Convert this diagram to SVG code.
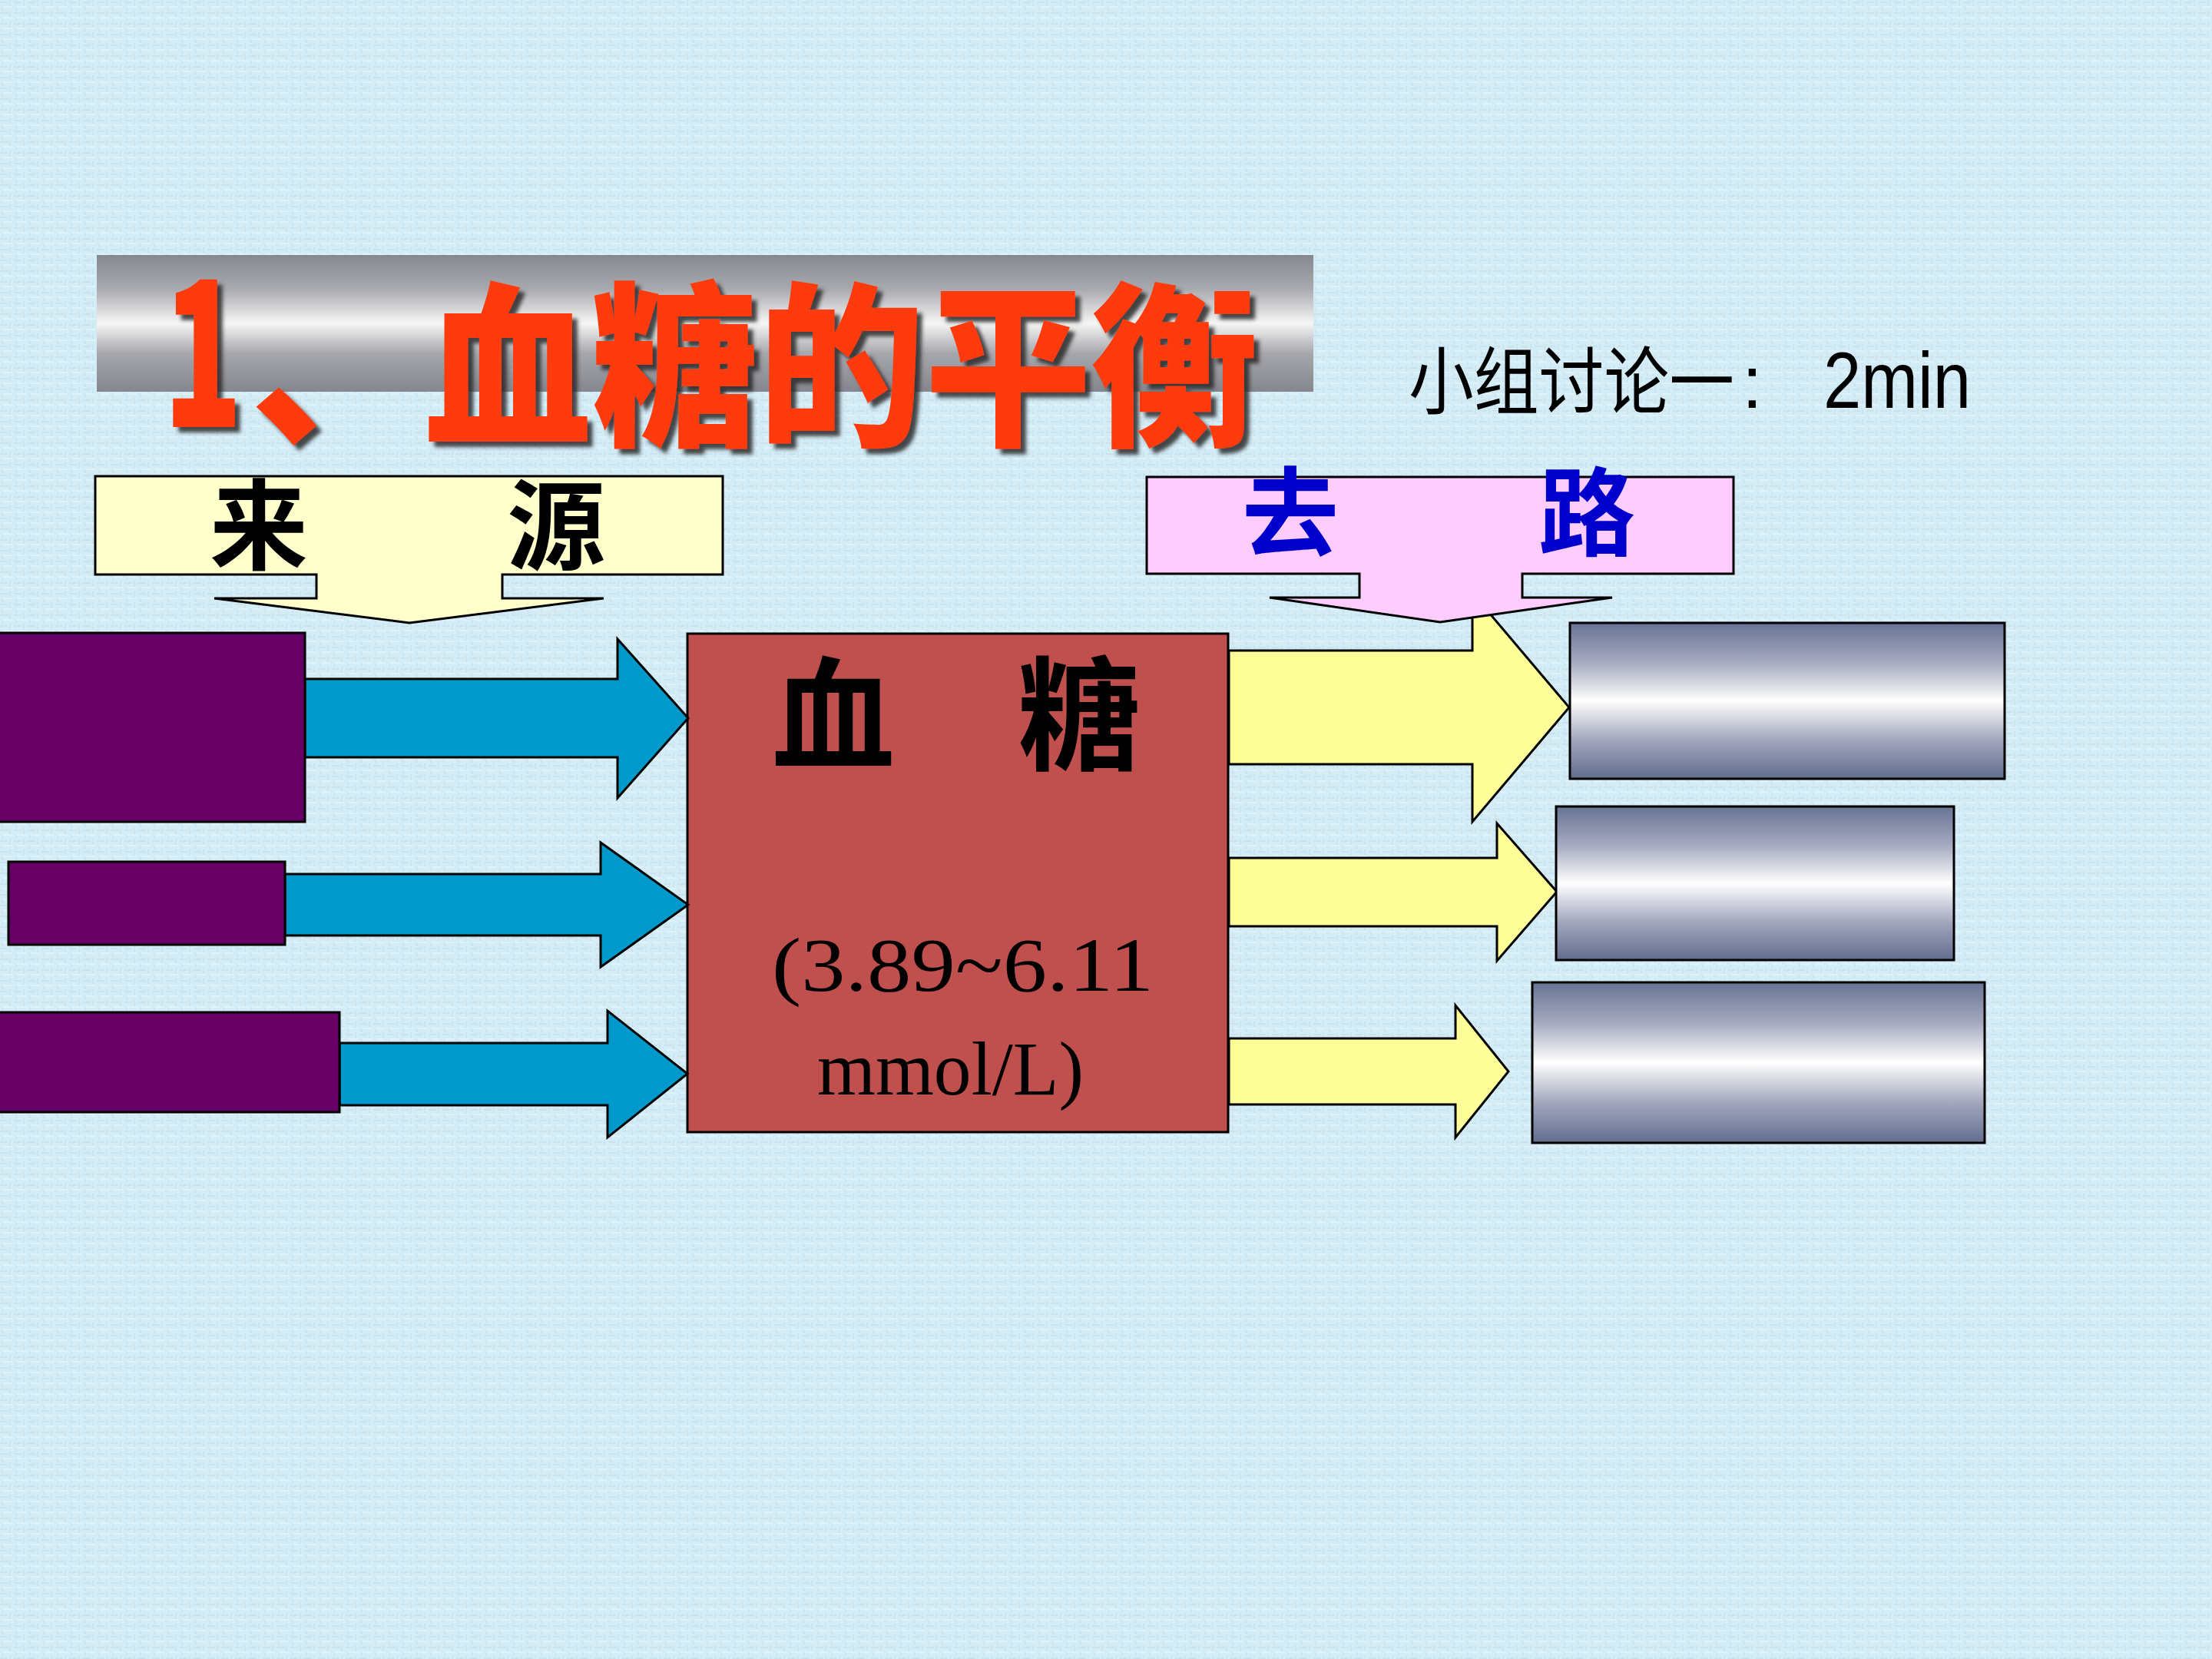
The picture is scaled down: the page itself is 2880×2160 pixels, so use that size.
<svg xmlns="http://www.w3.org/2000/svg" width="2880" height="2160" viewBox="0 0 2880 2160">
  <defs>
    <linearGradient id="barGrad" x1="0" y1="0" x2="0" y2="1">
      <stop offset="0" stop-color="#86888f"/>
      <stop offset="0.25" stop-color="#a9aaaf"/>
      <stop offset="0.5" stop-color="#f6f6f6"/>
      <stop offset="0.72" stop-color="#a6a7ac"/>
      <stop offset="1" stop-color="#85868d"/>
    </linearGradient>
    <linearGradient id="metalGrad" x1="0" y1="0" x2="0" y2="1">
      <stop offset="0" stop-color="#687394"/>
      <stop offset="0.25" stop-color="#a4a9bf"/>
      <stop offset="0.5" stop-color="#ffffff"/>
      <stop offset="0.75" stop-color="#a2a7bd"/>
      <stop offset="1" stop-color="#626c8e"/>
    </linearGradient>
    <pattern id="bgTex" width="18" height="14" patternUnits="userSpaceOnUse">
      <rect width="18" height="14" fill="#d3ecf6"/>
      <rect x="0" y="2" width="10" height="2" fill="#c4e0ec" opacity="0.7"/>
      <rect x="12" y="0" width="2" height="9" fill="#c6e2ee" opacity="0.7"/>
      <rect x="4" y="8" width="12" height="2" fill="#e2f5fb" opacity="0.8"/>
      <rect x="2" y="10" width="2" height="4" fill="#c4e0ec" opacity="0.6"/>
    </pattern>
    <filter id="shadow" x="-10%" y="-10%" width="130%" height="130%">
      <feDropShadow dx="7" dy="7" stdDeviation="2.5" flood-color="#2a2a2a" flood-opacity="0.85"/>
    </filter>
    <style>
      .stk { stroke: #000; stroke-width: 3; stroke-linejoin: miter; }
      .purple { fill: #660066; }
      .blue { fill: #0099cc; }
      .yellow { fill: #ffff99; }
      .metal { fill: url(#metalGrad); }
      .cjk { font-family: "Noto Sans CJK SC", "Noto Sans CJK TC", sans-serif; }
    </style>
  </defs>

  <rect width="2880" height="2160" fill="url(#bgTex)"/>

  <g id="title">
    <rect x="126" y="332" width="1584" height="178" fill="url(#barGrad)"/>
    <text class="cjk" font-weight="900" fill="#ff3a0a" filter="url(#shadow)" font-size="230"><tspan x="212" y="556" font-size="258" textLength="104" lengthAdjust="spacingAndGlyphs">1</tspan><tspan x="326" y="562">、</tspan><tspan x="553" y="562" textLength="1085" lengthAdjust="spacingAndGlyphs">血糖的平衡</tspan></text>
  </g>

  <g id="discussion">
    <text font-family="Liberation Sans, Noto Sans CJK SC, sans-serif" font-size="96" fill="#000" y="531"><tspan x="1834" textLength="424" lengthAdjust="spacingAndGlyphs">小组讨论一</tspan><tspan x="2268">: </tspan><tspan x="2374" font-size="104" textLength="192" lengthAdjust="spacingAndGlyphs">2min</tspan></text>
  </g>

  <g id="source-callout">
    <path class="stk" fill="#ffffcc" d="M124,620 H941 V748 H654 V779 H786 L533,811 L279,779 H412 V748 H124 Z"/>
    <text class="cjk" font-size="128" font-weight="600" fill="#000" y="732"><tspan x="273">来</tspan><tspan x="660">源</tspan></text>
  </g>

  <g id="blood-sugar">
    <rect class="stk" x="895" y="825" width="704" height="649" fill="#c0504d"/>
    <text class="cjk" font-size="160" font-weight="600" fill="#000" y="990"><tspan x="1005">血</tspan><tspan x="1325">糖</tspan></text>
    <text font-family="Liberation Serif, serif" font-size="100" fill="#000">
      <tspan x="1005" y="1290" textLength="497" lengthAdjust="spacingAndGlyphs">(3.89~6.11</tspan>
      <tspan x="1064" y="1425" textLength="347" lengthAdjust="spacingAndGlyphs">mmol/L)</tspan>
    </text>
  </g>

  <g id="connectors">
    <polygon class="stk blue" points="397,884 804,884 804,832 896,935 804,1039 804,986 397,986"/>
    <polygon class="stk blue" points="371,1138 782,1138 782,1097 896,1178 782,1259 782,1218 371,1218"/>
    <polygon class="stk blue" points="442,1358 791,1358 791,1316 895,1398 791,1481 791,1439 442,1439"/>
    <polygon class="stk yellow" points="1600,847 1917,847 1917,772 2043,921 1917,1070 1917,995 1600,995"/>
    <polygon class="stk yellow" points="1600,1117 1949,1117 1949,1072 2027,1161 1949,1251 1949,1206 1600,1206"/>
    <polygon class="stk yellow" points="1600,1352 1895,1352 1895,1309 1964,1395 1895,1481 1895,1438 1600,1438"/>
  </g>

  <g id="dest-callout">
    <path class="stk" fill="#ffccff" d="M1493,621 H2257 V747 H1982 V778 H2099 L1875,810 L1653,778 H1770 V747 H1493 Z"/>
    <text class="cjk" font-size="126" font-weight="700" fill="#0000cc" y="714"><tspan x="1617">去</tspan><tspan x="2003">路</tspan></text>
  </g>

  <g id="source-1"><rect class="stk purple" x="-5" y="824" width="402" height="246"/></g>
  <g id="source-2"><rect class="stk purple" x="11" y="1122" width="360" height="108"/></g>
  <g id="source-3"><rect class="stk purple" x="-5" y="1318" width="447" height="130"/></g>

  <g id="dest-1"><rect class="stk metal" x="2044" y="811" width="566" height="203"/></g>
  <g id="dest-2"><rect class="stk metal" x="2026" y="1050" width="518" height="200"/></g>
  <g id="dest-3"><rect class="stk metal" x="1995" y="1279" width="589" height="209"/></g>
</svg>
